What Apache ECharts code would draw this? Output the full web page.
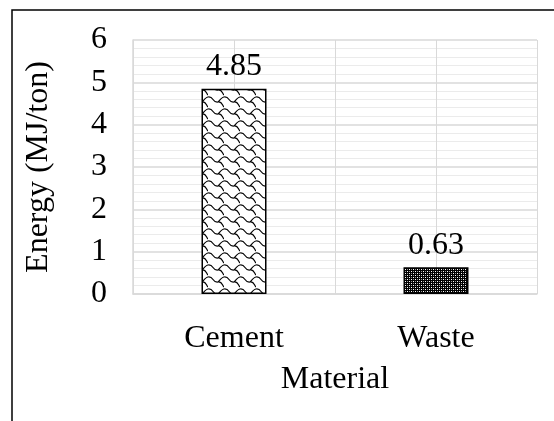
<!DOCTYPE html>
<html>
<head>
<meta charset="utf-8">
<title>Energy by material</title>
<script src="https://cdn.jsdelivr.net/npm/echarts@6/dist/echarts.min.js"></script>
<style>
  html, body { margin: 0; padding: 0; background: #fff; }
  #chart { width: 554px; height: 421px; }
</style>
</head>
<body>
<div id="chart"></div>
<script>
  // data
  const categories = ['Cement', 'Waste'];
  const energy = [4.85, 0.63];
  const yTicks = [0, 1, 2, 3, 4, 5, 6];

  const serif = '"Liberation Serif", "Times New Roman", serif';
  const fs = 32;

  // shingle-like pattern for the cement bar
  function makeScalePattern() {
    const c = document.createElement('canvas');
    c.width = 16; c.height = 12;
    const g = c.getContext('2d');
    g.fillStyle = '#fff';
    g.fillRect(0, 0, 16, 12);
    g.strokeStyle = '#000';
    g.lineWidth = 1.2;
    g.beginPath();
    g.moveTo(0, 1);
    g.bezierCurveTo(6, 0, 4, 7, 10, 6);
    g.bezierCurveTo(14, 5, 14, 9, 16, 11);
    g.moveTo(10, 6);
    g.bezierCurveTo(12, 4, 14, 1, 16, 1);
    g.stroke();
    return c;
  }

  // dense dotted pattern for the waste bar
  function makeDotPattern() {
    const c = document.createElement('canvas');
    c.width = 4; c.height = 4;
    const g = c.getContext('2d');
    g.fillStyle = '#000';
    g.fillRect(0, 0, 4, 4);
    g.fillStyle = '#fff';
    g.fillRect(1, 1, 1, 1);
    g.fillRect(3, 3, 1, 1);
    g.fillStyle = '#999';
    g.fillRect(3, 1, 1, 1);
    g.fillRect(1, 3, 1, 1);
    return c;
  }

  const patterns = [makeScalePattern(), makeDotPattern()];

  const chart = echarts.init(document.getElementById('chart'), null, { renderer: 'canvas' });
  chart.setOption({
    animation: false,
    textStyle: { fontFamily: serif },
    grid: { left: 133, right: 17, top: 40, bottom: 127 },
    graphic: [{
      type: 'rect',
      shape: { x: 12, y: 10, width: 600, height: 500 },
      style: { fill: 'none', stroke: '#000', lineWidth: 1.5 },
      silent: true
    }],
    xAxis: [{
      type: 'category',
      data: categories,
      name: 'Material',
      nameLocation: 'middle',
      nameGap: 70,
      nameTextStyle: { fontSize: fs, color: '#000', fontFamily: serif },
      axisLine: { show: true, lineStyle: { color: '#d9d9d9', width: 1.5 } },
      axisTick: { show: false },
      axisLabel: { fontSize: fs, color: '#000', margin: 29, fontFamily: serif },
      splitLine: { show: false }
    }, {
      // quarter lines for the vertical grid (edges and centres)
      type: 'category',
      data: ['', '', '', ''],
      position: 'bottom',
      axisLine: { show: false },
      axisTick: { show: false },
      axisLabel: { show: false },
      splitLine: { show: true, lineStyle: { color: '#d9d9d9', width: 1 } }
    }],
    yAxis: {
      type: 'value',
      min: yTicks[0],
      max: yTicks[yTicks.length - 1],
      interval: 1,
      name: 'Energy (MJ/ton)',
      nameLocation: 'middle',
      nameGap: 78,
      nameTextStyle: { fontSize: fs, color: '#000', fontFamily: serif },
      axisLine: { show: true, lineStyle: { color: '#d9d9d9', width: 1.5 } },
      axisTick: { show: false },
      axisLabel: { fontSize: fs, color: '#000', margin: 26, fontFamily: serif },
      splitLine: { show: true, lineStyle: { color: '#d9d9d9', width: 1.5 } },
      minorTick: { show: false, splitNumber: 5 },
      minorSplitLine: { show: true, lineStyle: { color: '#ebebeb', width: 1 } }
    },
    series: [{
      type: 'bar',
      xAxisIndex: 0,
      barWidth: 65,
      data: energy.map((v, i) => ({
        value: v,
        itemStyle: { color: { image: patterns[i], repeat: 'repeat' } }
      })),
      itemStyle: { borderColor: '#000', borderWidth: 1.5 },
      label: {
        show: true,
        position: 'top',
        distance: 6,
        fontSize: fs,
        color: '#000',
        fontFamily: serif
      }
    }]
  });
</script>
</body>
</html>
